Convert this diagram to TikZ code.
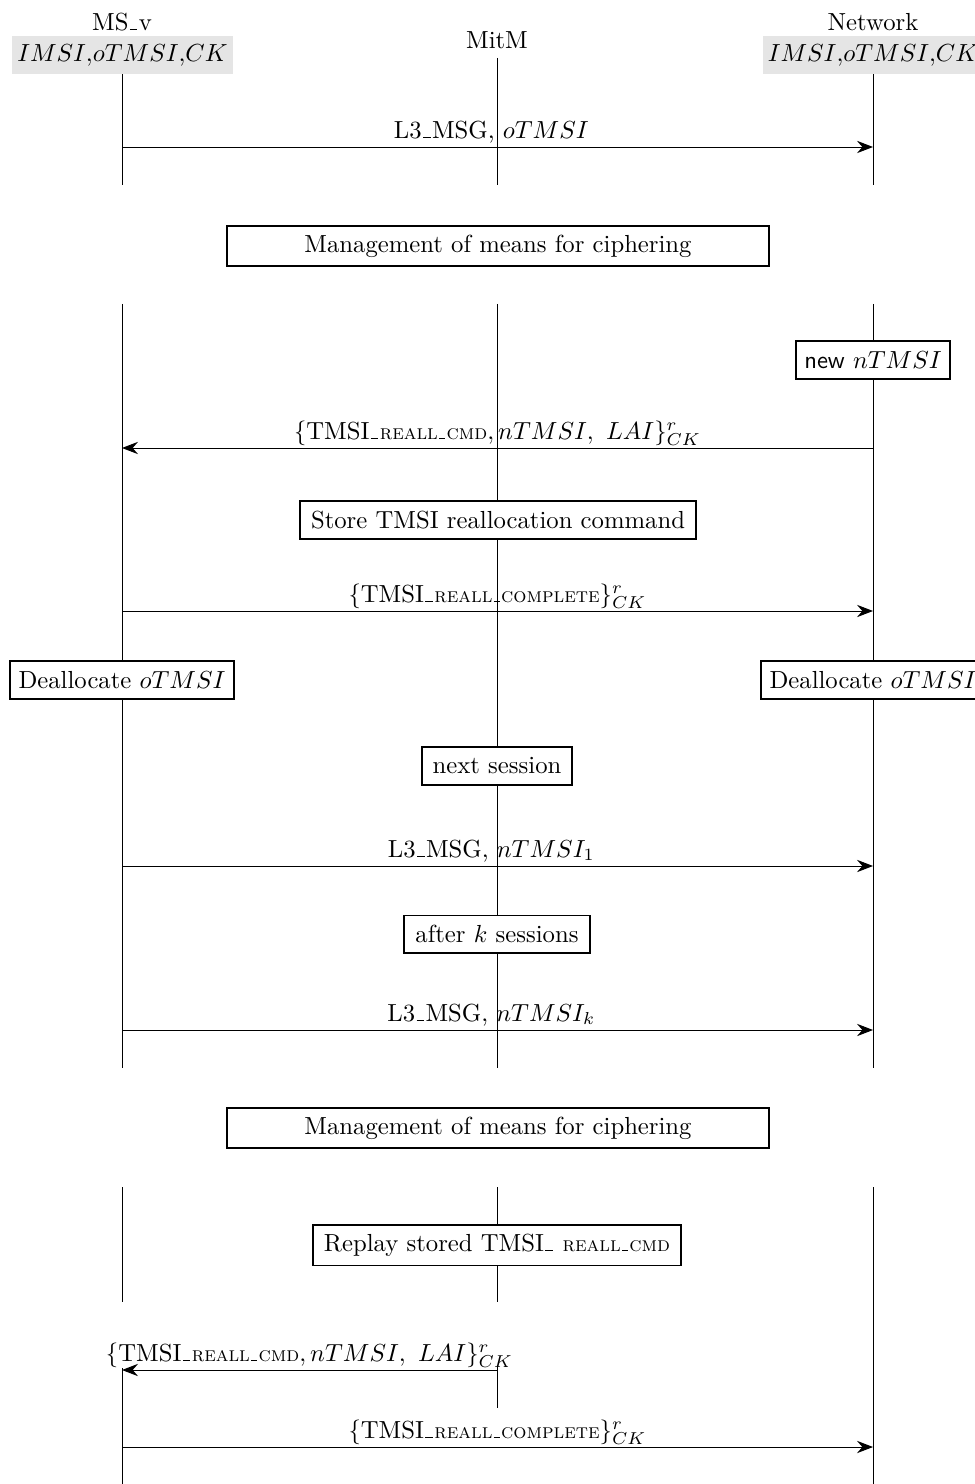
\documentclass[tikz,border=0pt]{standalone}
\usetikzlibrary{arrows.meta,backgrounds}
\newcommand\usc{\leavevmode\kern.06em\vbox{\hrule width.3em}\kern.06em}
\newcommand\smc[1]{{\fontsize{8.4pt}{10pt}\selectfont\textsc{#1}}}
\begin{document}
\begin{tikzpicture}[x=0.405pt,y=-0.405pt,
  line width=0.8pt,
  msg/.style={-{Stealth[length=6.5pt,width=5pt,inset=2.2pt]}},
  lbl/.style={anchor=base,inner sep=0pt,yshift=3.6pt},
  act/.style={draw,fill=white,inner xsep=4.5pt,inner ysep=3pt,minimum height=15pt},
  wide/.style={act,minimum width=219.5pt,minimum height=16.2pt},
  state/.style={fill=black!10,inner xsep=2pt,minimum height=14.6pt,minimum width=89.5pt},
]
\useasboundingbox (0,0) rectangle (974,1484);

% headers
\node (msname) at (122,22) {MS\usc v};
\node[state] (msstate) at (122.5,55) {$IMSI{,}oTMSI{,}CK$};
\node (mitm) at (497,40) {MitM};
\node (netname) at (873,22) {Network};
\node[state] (netstate) at (873,55) {$IMSI{,}oTMSI{,}CK$};

% action boxes
\node[wide] (mgmt1) at (498,246) {Management of means for ciphering};
\node[act,inner xsep=3.5pt] (newt) at (873,360) {\textsf{new} $nTMSI$};
\node[act] (store) at (498,520) {Store TMSI reallocation command};
\node[act,inner xsep=3.5pt] (deallms) at (122,680) {Deallocate $oTMSI$};
\node[act,inner xsep=3.5pt] (deallnet) at (873,680) {Deallocate $oTMSI$};
\node[act] (next) at (497,766) {next session};
\node[act] (afterk) at (497,934) {after $k$ sessions};
\node[wide] (mgmt2) at (498,1128) {Management of means for ciphering};
\node[act,minimum height=16.6pt] (replay) at (497,1245) {Replay stored TMSI\usc{} \smc{reall\usc cmd}};

% lifeline coordinates
\coordinate (ms1a) at (122,73);   \coordinate (ms1b) at (122,185);
\coordinate (mi1a) at (497,58);   \coordinate (mi1b) at (497,185);
\coordinate (ne1a) at (873,73);   \coordinate (ne1b) at (873,185);
\coordinate (ms2a) at (122,304);  \coordinate (ms2b) at (122,1068);
\coordinate (mi2a) at (497,304);  \coordinate (mi2b) at (497,1068);
\coordinate (ne2a) at (873,304);  \coordinate (ne2b) at (873,1068);
\coordinate (ms3a) at (122,1187); \coordinate (ms3b) at (122,1302);
\coordinate (mi3a) at (497,1187); \coordinate (mi3b) at (497,1302);
\coordinate (ne3a) at (873,1187); \coordinate (ne3b) at (873,1484);
\coordinate (ms4a) at (122,1368); \coordinate (ms4b) at (122,1484);
\coordinate (mi4a) at (497,1366); \coordinate (mi4b) at (497,1408);

\begin{pgfonlayer}{background}
\draw (ms1a) -- (ms1b);
\draw (mi1a) -- (mi1b);
\draw (ne1a) -- (ne1b);
\draw (ms2a) -- (ms2b);
\draw (mi2a) -- (mi2b);
\draw (ne2a) -- (ne2b);
\draw (ms3a) -- (ms3b);
\draw (mi3a) -- (mi3b);
\draw (ne3a) -- (ne3b);
\draw (ms4a) -- (ms4b);
\draw (mi4a) -- (mi4b);
\end{pgfonlayer}

% message endpoints
\coordinate (m1s) at (122,147);  \coordinate (m1e) at (873,147);
\coordinate (m2s) at (873,448);  \coordinate (m2e) at (122,448);
\coordinate (m3s) at (122,611);  \coordinate (m3e) at (873,611);
\coordinate (m4s) at (122,866);  \coordinate (m4e) at (873,866);
\coordinate (m5s) at (122,1030); \coordinate (m5e) at (873,1030);
\coordinate (m6s) at (497,1370); \coordinate (m6e) at (122,1370);
\coordinate (m7s) at (122,1447); \coordinate (m7e) at (873,1447);

\draw[msg] (m1s) -- (m1e) node[midway,lbl,xshift=-2.5pt] {L3\usc MSG, $oTMSI$};
\draw[msg] (m2s) -- (m2e) node[midway,lbl] {$\{\mbox{TMSI\usc\smc{reall\usc cmd}}, nTMSI,\ LAI\}^r_{CK}$};
\draw[msg] (m3s) -- (m3e) node[midway,lbl] {$\{\mbox{TMSI\usc\smc{reall\usc complete}}\}^r_{CK}$};
\draw[msg] (m4s) -- (m4e) node[midway,lbl,xshift=-2.5pt] {L3\usc MSG, $nTMSI_1$};
\draw[msg] (m5s) -- (m5e) node[midway,lbl,xshift=-2.5pt] {L3\usc MSG, $nTMSI_k$};
\draw[msg] (m6s) -- (m6e) node[midway,lbl] {$\{\mbox{TMSI\usc\smc{reall\usc cmd}}, nTMSI,\ LAI\}^r_{CK}$};
\draw[msg] (m7s) -- (m7e) node[midway,lbl] {$\{\mbox{TMSI\usc\smc{reall\usc complete}}\}^r_{CK}$};
\end{tikzpicture}
\end{document}
